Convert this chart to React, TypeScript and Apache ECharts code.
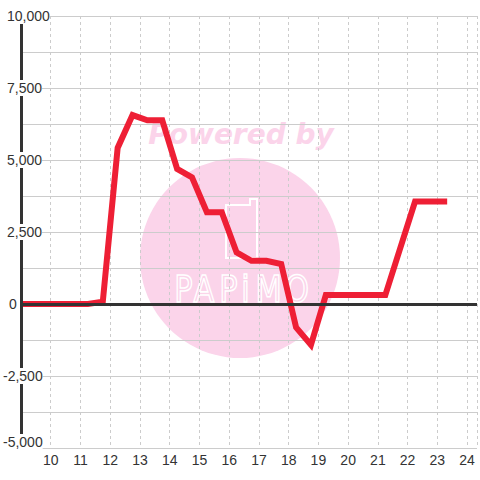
import React, { useEffect, useRef } from "react";
import * as echarts from "echarts";

const hours = [9, 11.25, 11.75, 12.25, 12.75, 13.25, 13.75, 14.25, 14.75, 15.25, 15.75, 16.25, 16.75, 17.25, 17.75, 18.25, 18.75, 19.25, 21.25, 22.25, 23.33];
const values = [0, 0, 80, 5420, 6560, 6380, 6380, 4690, 4400, 3190, 3190, 1790, 1500, 1500, 1390, -810, -1420, 310, 310, 3560, 3560];
const yMin = -5000;
const yMax = 10000;
const yStep = 2500;
const xMin = 9;
const xMax = 24.333;
const logoLetters = ["P", "A", "P", "i", "M", "O"];
const logoLetterX = [183.5, 204, 228.5, 245.5, 268.5, 297];

export default function App() {
  const ref = useRef<HTMLDivElement>(null);
  useEffect(() => {
    if (!ref.current) return;
    const chart = echarts.init(ref.current, undefined, { renderer: "svg" });
    const pink = "#FBD4EA";
    const font = "'Liberation Sans', Arial, sans-serif";
    const letterEls = logoLetters.map((ch, i) => ({
      type: "text",
      z: -10,
      x: logoLetterX[i],
      y: 289,
      scaleX: 0.8,
      style: {
        text: ch,
        fill: "none",
        stroke: "#ffffff",
        lineWidth: 1.6,
        font: "38px 'DejaVu Sans'",
        align: "center",
        verticalAlign: "middle",
      },
    }));
    const baseY = {
      type: "value",
      min: yMin,
      max: yMax,
      interval: yStep,
      position: "left",
      offset: 0,
      axisTick: { show: false },
    };
    chart.setOption({
      animation: false,
      backgroundColor: "#ffffff",
      grid: { left: 20, right: 0, top: 16, bottom: 32, containLabel: false },
      graphic: [
        {
          type: "text",
          z: -10,
          x: 241,
          y: 134,
          style: {
            text: "Powered by",
            fill: pink,
            font: "italic bold 28px 'DejaVu Sans'",
            align: "center",
            verticalAlign: "middle",
          },
        },
        {
          type: "circle",
          z: -10,
          shape: { cx: 240, cy: 258, r: 100 },
          style: { fill: pink },
        },
        {
          type: "polygon",
          z: -9,
          shape: {
            points: [
              [226, 205],
              [250, 205],
              [250, 199],
              [257, 199],
              [257, 258],
              [226, 258],
            ],
          },
          style: { fill: "none", stroke: "#ffffff", lineWidth: 2 },
        },
        ...letterEls,
      ],
      xAxis: {
        type: "value",
        min: xMin,
        max: xMax,
        interval: 1,
        z: 0,
        axisLine: { show: false },
        axisTick: { show: false },
        splitLine: { show: true, lineStyle: { color: "#cccccc", width: 1, type: [3, 3] } },
        axisLabel: {
          showMinLabel: false,
          margin: 5,
          color: "#333333",
          fontSize: 14,
          fontFamily: font,
          formatter: (v: number) => (Number.isInteger(v) && v > xMin ? String(v) : ""),
        },
      },
      yAxis: [
        {
          ...baseY,
          z: 0,
          axisLine: { show: false },
          axisLabel: { show: false },
          minorTick: { show: false, splitNumber: 2 },
          minorSplitLine: { show: true, lineStyle: { color: "#cccccc", width: 1 } },
          splitLine: { show: true, lineStyle: { color: "#cccccc", width: 1 } },
        },
        {
          ...baseY,
          z: 4,
          axisLine: { show: true, onZero: false, lineStyle: { color: "#333333", width: 3 } },
          axisLabel: { show: false },
          splitLine: { show: false },
        },
        {
          ...baseY,
          z: 6,
          axisLine: { show: false },
          splitLine: { show: false },
          axisLabel: {
            align: "left",
            margin: 18,
            color: "#333333",
            fontSize: 14,
            fontFamily: font,
            backgroundColor: "#ffffff",
            padding: [1, 0, 1, 0],
            formatter: (v: number) => {
              const s = v.toLocaleString("en-US");
              if (v === 0) return "{z|" + s + "}";
              if (v === yMin) return "{b|" + s + "}";
              if (v < 0) return "{n|" + s + "}";
              return "{p|" + s + "}";
            },
            rich: {
              z: { padding: [0, 0, 0, 6], fontSize: 14, color: "#333333", fontFamily: font },
              p: { padding: [0, 0, 0, 4], fontSize: 14, color: "#333333", fontFamily: font },
              n: { padding: [0, 0, 0, 0], fontSize: 14, color: "#333333", fontFamily: font },
              b: { padding: [0, 0, 12, 0], fontSize: 14, color: "#333333", fontFamily: font },
            },
          },
        },
      ],
      series: [
        {
          type: "line",
          data: [],
          yAxisIndex: 0,
          z: 2,
          silent: true,
          markLine: {
            silent: true,
            symbol: "none",
            label: { show: false },
            lineStyle: { color: "#333333", width: 3, type: "solid" },
            data: [{ yAxis: 0 }],
          },
        },
        {
          type: "line",
          yAxisIndex: 0,
          z: 3,
          data: hours.map((h, i) => [h, values[i]]),
          showSymbol: false,
          symbol: "none",
          lineStyle: { color: "#EE1F35", width: 6, join: "miter", cap: "butt" },
        },
      ],
    });
    return () => chart.dispose();
  }, []);
  return <div ref={ref} style={{ position: "fixed", left: 0, top: 0, width: 480, height: 480 }} />;
}
